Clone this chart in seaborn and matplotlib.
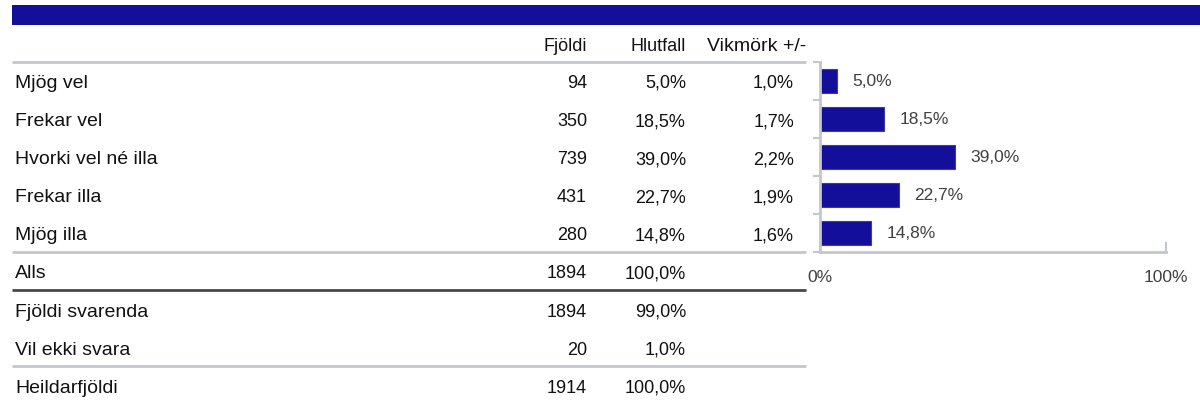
import matplotlib
matplotlib.use('Agg')
import matplotlib.pyplot as plt
import seaborn as sns
import numpy as np

# Gögn
flokkar = ['Mjög vel', 'Frekar vel', 'Hvorki vel né illa', 'Frekar illa', 'Mjög illa']
fjoldi = [94, 350, 739, 431, 280]
hlutfall = [5.0, 18.5, 39.0, 22.7, 14.8]
vikmork = [1.0, 1.7, 2.2, 1.9, 1.6]

samtals_heiti = ['Alls', 'Fjöldi svarenda', 'Vil ekki svara', 'Heildarfjöldi']
samtals_fjoldi = [1894, 1894, 20, 1914]
samtals_hlutfall = [100.0, 99.0, 1.0, 100.0]

dalkar = ['Fjöldi', 'Hlutfall', 'Vikmörk +/-']
as_ticks = [0, 100]
as_ticklabels = ['0%', '100%']

BLAR = '#130F9A'
LJOSGRAR = '#C3C7CB'
DOKKGRAR = '#45494D'
TEXTI = '#404040'


def pct(v):
    return f'{v:.1f}%'.replace('.', ',')


sns.set_style('white')
plt.rcParams['font.family'] = ['Liberation Sans', 'DejaVu Sans']
plt.rcParams['font.size'] = 13
plt.rcParams['text.color'] = '#111111'

fig = plt.figure(figsize=(12, 4.03), dpi=100)

# Tafla í pixlahnitum
tab = fig.add_axes([0, 0, 1, 1])
tab.set_xlim(0, 1200)
tab.set_ylim(403, 0)
tab.axis('off')

# Blá rönd efst
tab.axhspan(5, 25, xmin=12 / 1200, xmax=1, color=BLAR, lw=0)

grunn0, bil = 88, 38.1      # grunnlína fyrstu raðar og bil milli raða
haus_grunn = 51
x_heiti, x_fj, x_hl, x_vk = 15, 587, 686, 794
heiti_str = 14

tab.text(x_fj, haus_grunn, dalkar[0], ha='right', va='baseline')
tab.text(x_hl, haus_grunn, dalkar[1], ha='right', va='baseline')
tab.text(806, haus_grunn, dalkar[2], ha='right', va='baseline', fontsize=14)

for i, (f, n, h, v) in enumerate(zip(flokkar, fjoldi, hlutfall, vikmork)):
    y = grunn0 + i * bil
    tab.text(x_heiti, y, f, ha='left', va='baseline', fontsize=heiti_str)
    tab.text(x_fj, y, str(n), ha='right', va='baseline')
    tab.text(x_hl, y, pct(h), ha='right', va='baseline')
    tab.text(x_vk, y, pct(v), ha='right', va='baseline')

for j, (f, n, h) in enumerate(zip(samtals_heiti, samtals_fjoldi, samtals_hlutfall)):
    y = grunn0 + (5 + j) * bil
    tab.text(x_heiti, y, f, ha='left', va='baseline', fontsize=heiti_str)
    tab.text(x_fj, y, str(n), ha='right', va='baseline')
    tab.text(x_hl, y, pct(h), ha='right', va='baseline')

# Línur milli raða
topp = 62
lina = lambda r: topp + r * 38
linur = [lina(0), lina(5), lina(6), lina(8)]
litir = [LJOSGRAR, LJOSGRAR, DOKKGRAR, LJOSGRAR]
for y, c in zip(linur, litir):
    tab.plot([12, 806], [y, y], color=c, lw=2, solid_capstyle='butt')

# Súlurit
botn = lina(5)
ax = fig.add_axes([820 / 1200, 1 - botn / 403, 346 / 1200, (botn - topp) / 403])
sns.barplot(x=hlutfall, y=flokkar, orient='h', color=BLAR, width=0.65,
            edgecolor='#3B37B5', linewidth=0.8, saturation=1, ax=ax)
ax.set_xlim(0, 100)
ax.set_ylim(4.5, -0.5)
ax.set_facecolor('none')
ax.bar_label(ax.containers[0], labels=[pct(h) for h in hlutfall], padding=11,
             color=TEXTI, fontsize=12.5)

ax.set_yticks(np.arange(-0.5, 5, 1))
ax.set_yticklabels([])
ax.set_xticks(as_ticks)
ax.set_xticklabels(as_ticklabels, color=TEXTI, fontsize=12.5)
ax.tick_params(axis='y', direction='out', length=5, width=1.5, color=LJOSGRAR, left=True)
ax.tick_params(axis='x', direction='in', length=7, width=1.5, color=LJOSGRAR, pad=13, bottom=True)
ax.set_xlabel('')
ax.set_ylabel('')
for s in ['top', 'right']:
    ax.spines[s].set_visible(False)
for s in ['left', 'bottom']:
    ax.spines[s].set_color(LJOSGRAR)
    ax.spines[s].set_linewidth(2)

fig.savefig('out.png', dpi=100)
